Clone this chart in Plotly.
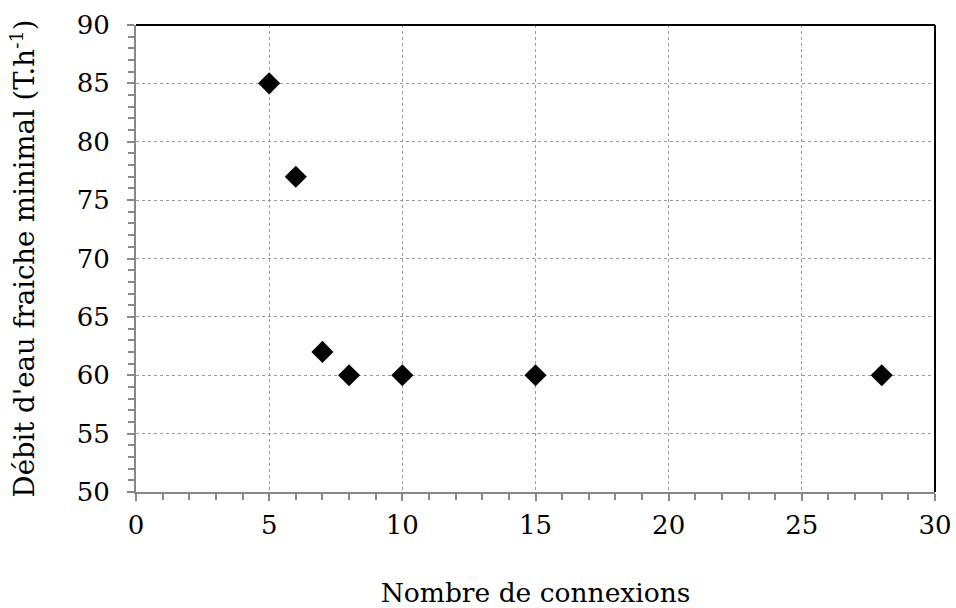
import plotly.graph_objects as go

# Nombre de connexions vs débit d'eau fraiche minimal
connexions = [5, 6, 7, 8, 10, 15, 28]
debit_min = [85, 77, 62, 60, 60, 60, 60]

x_ticks = [0, 5, 10, 15, 20, 25, 30]
y_ticks = [50, 55, 60, 65, 70, 75, 80, 85, 90]

FONT = "DejaVu Serif"
AXIS_GRAY = "#878787"
TICK_SIZE = 26
X_TITLE_SIZE = 26.5
Y_TITLE_SIZE = 27.5

fig = go.Figure()
fig.add_trace(go.Scatter(
    x=connexions, y=debit_min, mode="markers",
    marker=dict(symbol="diamond", size=17, color="black"),
    showlegend=False,
))

fig.update_layout(
    width=956, height=608,
    margin=dict(l=136, r=21, t=25, b=116),
    paper_bgcolor="white", plot_bgcolor="white",
    font=dict(family=FONT, size=TICK_SIZE, color="black"),
    xaxis=dict(
        range=[0, 30], tickvals=x_ticks, ticktext=[str(v) for v in x_ticks],
        tickfont=dict(family=FONT, size=TICK_SIZE, color="black"),
        showline=True, linecolor=AXIS_GRAY, linewidth=2,
        ticks="outside", ticklen=7, tickwidth=2, tickcolor=AXIS_GRAY,
        minor=dict(dtick=1, ticks="outside", ticklen=6, tickwidth=2,
                   tickcolor=AXIS_GRAY, showgrid=False),
        showgrid=True, gridcolor="#9a9a9a", griddash="dot", gridwidth=1,
        zeroline=False, ticklabelstandoff=2, automargin=False,
        title=dict(text="Nombre de connexions", standoff=45,
                   font=dict(family=FONT, size=X_TITLE_SIZE, color="black")),
    ),
    yaxis=dict(
        range=[50, 90], tickvals=y_ticks, ticktext=[str(v) for v in y_ticks],
        tickfont=dict(family=FONT, size=TICK_SIZE, color="black"),
        showline=True, linecolor=AXIS_GRAY, linewidth=2,
        ticks="outside", ticklen=7, tickwidth=2, tickcolor=AXIS_GRAY,
        minor=dict(dtick=1, ticks="outside", ticklen=6, tickwidth=2,
                   tickcolor=AXIS_GRAY, showgrid=False),
        showgrid=True, gridcolor="#9a9a9a", griddash="dot", gridwidth=1,
        zeroline=False, ticklabelstandoff=12, automargin=False,
        title=dict(text="Débit d'eau fraiche minimal (T.h<sup>-1</sup>)",
                   standoff=34, font=dict(family=FONT, size=Y_TITLE_SIZE, color="black")),
    ),
)

# Black frame on the top and right sides of the plot area
fig.add_shape(type="line", xref="paper", yref="paper", x0=0, x1=1, y0=1, y1=1,
              line=dict(color="black", width=2))
fig.add_shape(type="line", xref="paper", yref="paper", x0=1, x1=1, y0=0, y1=1,
              line=dict(color="black", width=2))

fig.write_html("out.html")
